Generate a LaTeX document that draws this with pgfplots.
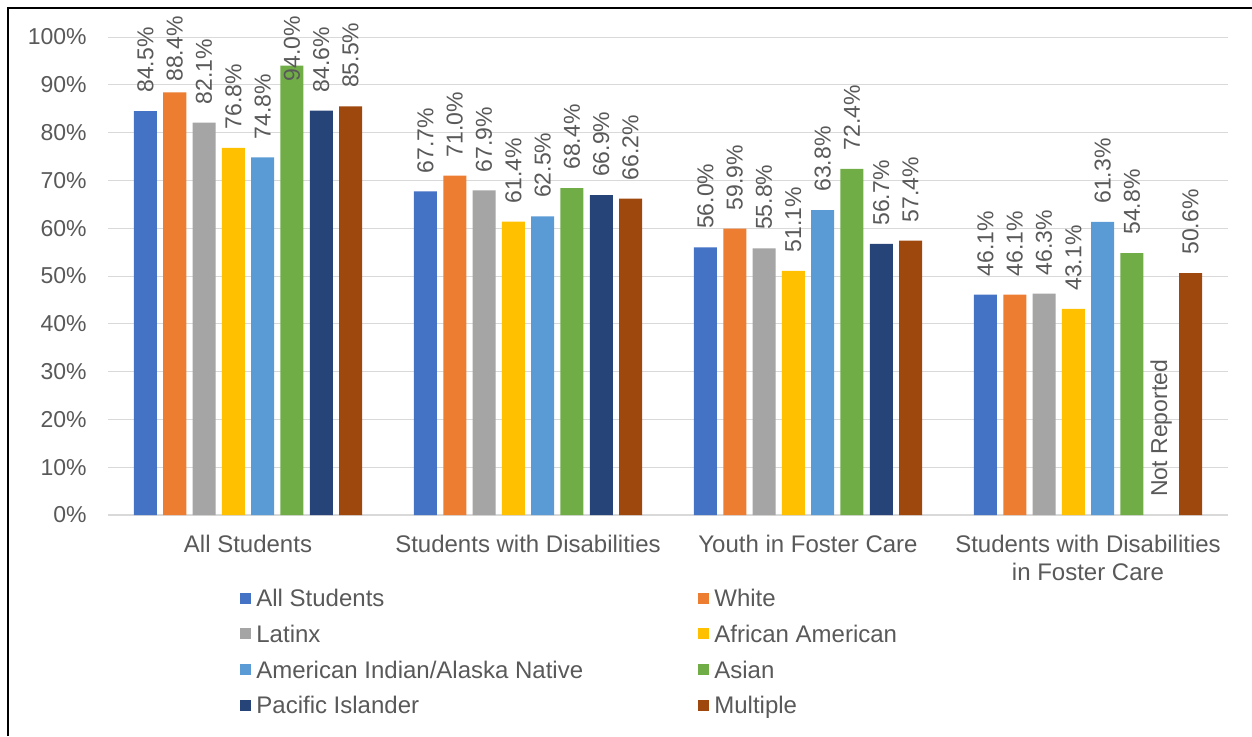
\documentclass[border=0pt]{standalone}
\usepackage{pgfplots}
\usepackage{pgfplotstable}
\pgfplotsset{compat=1.18}
\usepackage{fontspec}
\setmainfont{Liberation Sans}
\definecolor{cA}{HTML}{4472C4}
\definecolor{cB}{HTML}{ED7D31}
\definecolor{cC}{HTML}{A5A5A5}
\definecolor{cD}{HTML}{FFC000}
\definecolor{cE}{HTML}{5B9BD5}
\definecolor{cF}{HTML}{70AD47}
\definecolor{cG}{HTML}{264478}
\definecolor{cH}{HTML}{9E480E}
\definecolor{txt}{HTML}{595959}
\definecolor{grd}{HTML}{D9D9D9}
\pgfplotstableread{
x  a    oa  b    ob   c    oc  d    od  e    oe  f    of  g    og  h    oh
0  84.5 9   88.4 5.2  82.1 9   76.8 9   74.8 9   94.0 -8  84.6 9   85.5 9
1  67.7 9   71.0 9    67.9 9   61.4 9   62.5 9   68.4 9   66.9 9   66.2 9
2  56.0 9   59.9 9    55.8 9   51.1 9   63.8 9   72.4 9   56.7 9   57.4 9
3  46.1 9   46.1 9    46.3 9   43.1 9   61.3 9   54.8 9   nan  9   50.6 9
}\datatable
\newcommand\fs{\fontsize{12}{14}\selectfont}
\newcommand\fss{\fontsize{11.5}{14}\selectfont}
\begin{document}
\begin{tikzpicture}
\useasboundingbox (-54pt,-110.5pt) rectangle (572pt,257.5pt);
\draw[black, line width=1pt] (-49.75pt,-110.5pt) -- (-49.75pt,253.75pt) -- (572pt,253.75pt);
\begin{axis}[
  at={(0,0)}, anchor=south west,
  scale only axis, width=560pt, height=239pt,
  ybar, bar width=11.5pt,
  xmin=-0.5, xmax=3.5, ymin=0, ymax=100, enlargelimits=false,
  clip=false,
  axis x line*=bottom, axis y line*=left,
  x axis line style={draw=grd, line width=1pt},
  y axis line style={draw=none},
  major tick length=0pt,
  ymajorgrids, grid style={draw=grd, line width=0.5pt},
  ytick={0,10,...,100},
  yticklabel={\pgfmathprintnumber{\tick}\%},
  /pgf/number format/assume math mode=true,
  yticklabel style={font=\fss, text=txt, inner sep=0pt, xshift=-10.5pt},
  xtick={0,1,2,3},
  xticklabels={All Students, Students with Disabilities, Youth in Foster Care, {Students with Disabilities\\in Foster Care}},
  xticklabel style={font=\fs, text=txt, align=center, inner sep=0pt, yshift=-10pt},
  point meta=y,
  nodes near coords={\pgfmathprintnumber[fixed,fixed zerofill,precision=1]{\pgfplotspointmeta}\%},
  every node near coord/.append style={yshift=\labeloff pt, rotate=90, anchor=west, inner sep=0pt, font=\fss, text=txt},
  legend columns=2,
  legend image code/.code={\fill[#1] (0pt,-2.75pt) rectangle (5.5pt,2.75pt); \path (8pt,0pt);},
  legend style={draw=none, fill=none, inner sep=0pt, at={(0,0)}, anchor=north west, xshift=66pt, yshift=-37.2pt,
    font=\fs, text=txt, row sep=9.45pt,
    nodes={inner sep=0pt, text height=8.4pt, text depth=0pt}},
  legend cell align=left,
]
\addplot[fill=cA, draw=none, bar shift=-51.275pt, visualization depends on={\thisrow{oa}\as\labeloff}] table[x=x,y=a]{\datatable};
\addlegendentry{\makebox[221pt][l]{All Students}}
\addplot[fill=cB, draw=none, bar shift=-36.625pt, visualization depends on={\thisrow{ob}\as\labeloff}] table[x=x,y=b]{\datatable};
\addlegendentry{White}
\addplot[fill=cC, draw=none, bar shift=-21.975pt, visualization depends on={\thisrow{oc}\as\labeloff}] table[x=x,y=c]{\datatable};
\addlegendentry{\makebox[221pt][l]{Latinx}}
\addplot[fill=cD, draw=none, bar shift=-7.325pt, visualization depends on={\thisrow{od}\as\labeloff}] table[x=x,y=d]{\datatable};
\addlegendentry{African American}
\addplot[fill=cE, draw=none, bar shift=7.325pt, visualization depends on={\thisrow{oe}\as\labeloff}] table[x=x,y=e]{\datatable};
\addlegendentry{\makebox[221pt][l]{American Indian/Alaska Native}}
\addplot[fill=cF, draw=none, bar shift=21.975pt, visualization depends on={\thisrow{of}\as\labeloff}] table[x=x,y=f]{\datatable};
\addlegendentry{Asian}
\addplot[fill=cG, draw=none, bar shift=36.625pt, visualization depends on={\thisrow{og}\as\labeloff}] table[x=x,y=g]{\datatable};
\addlegendentry{\makebox[221pt][l]{Pacific Islander}}
\addplot[fill=cH, draw=none, bar shift=51.275pt, visualization depends on={\thisrow{oh}\as\labeloff}] table[x=x,y=h]{\datatable};
\addlegendentry{Multiple}
\addplot[fill=none, draw=none, bar shift=36.625pt, forget plot, visualization depends on={9\as\labeloff}, nodes near coords={Not Reported}] coordinates {(3,0)};
\end{axis}
\end{tikzpicture}
\end{document}
